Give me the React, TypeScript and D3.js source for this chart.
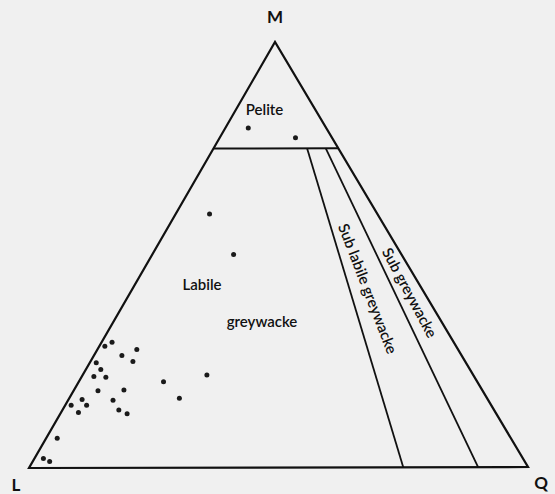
import React from "react";
import * as d3 from "d3";

// sandstone compositions in percent: M (matrix), Q (quartz), L (labile fragments)
const sampleM = [28.6, 29.5, 26.4, 27.8, 25.0, 24.7, 23.1, 21.5, 21.3, 18.1, 18.3, 20.2, 21.8, 16.3, 16.1, 14.7, 14.7, 13.0, 15.9, 13.6, 12.7, 7.0, 2.2, 1.5, 59.6, 50.1, 79.8, 77.5];
const sampleQ = [1.1, 2.1, 5.6, 7.9, 8.5, 1.3, 3.0, 2.4, 4.9, 4.9, 10.0, 17.0, 24.9, 22.1, 2.7, 1.2, 4.3, 3.5, 9.0, 11.3, 13.4, 2.2, 1.8, 3.4, 6.8, 16.3, 4.6, 15.2];
const sampleL = [70.3, 68.4, 68.0, 64.3, 66.5, 74.0, 73.9, 76.1, 73.8, 77.0, 71.7, 62.8, 53.3, 61.6, 81.2, 84.1, 81.0, 83.5, 75.1, 75.1, 73.9, 90.8, 96.0, 95.1, 33.6, 33.6, 15.6, 7.3];

// field boundaries
const pelitePct = 75; // M above this = pelite
const quartzRatios = [0.75, 0.9]; // Q/(Q+L) dividing lines

const vertexLabels = ["M", "L", "Q"];

export default function App() {
  const W = 555;
  const H = 494;

  // corners of the triangle in pixels
  const pL: [number, number] = [29, 468];
  const pQ: [number, number] = [528, 467];
  const pM: [number, number] = [275, 42];

  const total = d3.scaleLinear().domain([0, 100]).range([0, 1]);

  const proj = (m: number, q: number, l: number): [number, number] => {
    const s = m + q + l;
    const a = m / s, b = q / s, c = l / s;
    return [pM[0] * a + pQ[0] * b + pL[0] * c, pM[1] * a + pQ[1] * b + pL[1] * c];
  };

  const line = d3.line();
  const outline = line([pL, pQ, pM]) + "Z";

  const mTop = total(pelitePct);
  const peliteLeft = proj(mTop, 0, 1 - mTop);
  const peliteRight = proj(mTop, 1 - mTop, 0);

  const dividers = quartzRatios.map((r) => [
    proj(0, r, 1 - r),
    proj(mTop, (1 - mTop) * r, (1 - mTop) * (1 - r)),
  ] as [number, number][]);

  const angleOf = (a: [number, number], b: [number, number]) =>
    (Math.atan2(b[1] - a[1], b[0] - a[0]) * 180) / Math.PI;

  const lineAngle = (r: number) => angleOf(proj(1, 0, 0), proj(0, r, 1 - r));

  const font = "Lato, 'Open Sans', sans-serif";

  const subLabile = proj(42, 58 * 0.813, 58 * 0.187);
  const subLabileAngle = (lineAngle(0.75) + lineAngle(0.9)) / 2;
  const subGrey = proj(41, 59 * 0.95, 59 * 0.05);
  const subGreyAngle = (lineAngle(0.9) + lineAngle(1)) / 2;

  const pelitePos = proj(86, 6, 8);

  return (
    <svg
      width={W}
      height={H}
      style={{ position: "fixed", left: 0, top: 0, background: "#f0f0f0" }}
    >
      <rect width={W} height={H} fill="#f0f0f0" />
      <path d={outline} fill="none" stroke="#111" strokeWidth={2.2} strokeLinejoin="miter" />
      <path d={line([peliteLeft, peliteRight]) || ""} fill="none" stroke="#111" strokeWidth={2} />
      {dividers.map((d, i) => (
        <path key={i} d={line(d) || ""} fill="none" stroke="#111" strokeWidth={1.8} />
      ))}

      {sampleM.map((m, i) => {
        const [x, y] = proj(m, sampleQ[i], sampleL[i]);
        return <circle key={i} cx={x} cy={y} r={2.5} fill="#1a1a1a" />;
      })}

      <g fontFamily={font} fill="#111" fontWeight={700}>
        <text x={pM[0]} y={23} fontSize={17} textAnchor="middle">{vertexLabels[0]}</text>
        <text x={16} y={491} fontSize={17} textAnchor="middle">{vertexLabels[1]}</text>
        <text x={541} y={489} fontSize={17} textAnchor="middle">{vertexLabels[2]}</text>
      </g>

      <g fontFamily={font} fill="#111" fontWeight={600} fontSize={15}>
        <text x={pelitePos[0] - 6} y={115} textAnchor="middle">Pelite</text>
        <text x={202} y={290} textAnchor="middle">Labile</text>
        <text x={262} y={327} textAnchor="middle">greywacke</text>
        <text
          transform={`translate(${subLabile[0]},${subLabile[1]}) rotate(${subLabileAngle})`}
          textAnchor="middle"
          dy="0.35em"
        >
          Sub labile greywacke
        </text>
        <text
          transform={`translate(${subGrey[0]},${subGrey[1]}) rotate(${subGreyAngle})`}
          textAnchor="middle"
          dy="0.35em"
        >
          Sub greywacke
        </text>
      </g>
    </svg>
  );
}
